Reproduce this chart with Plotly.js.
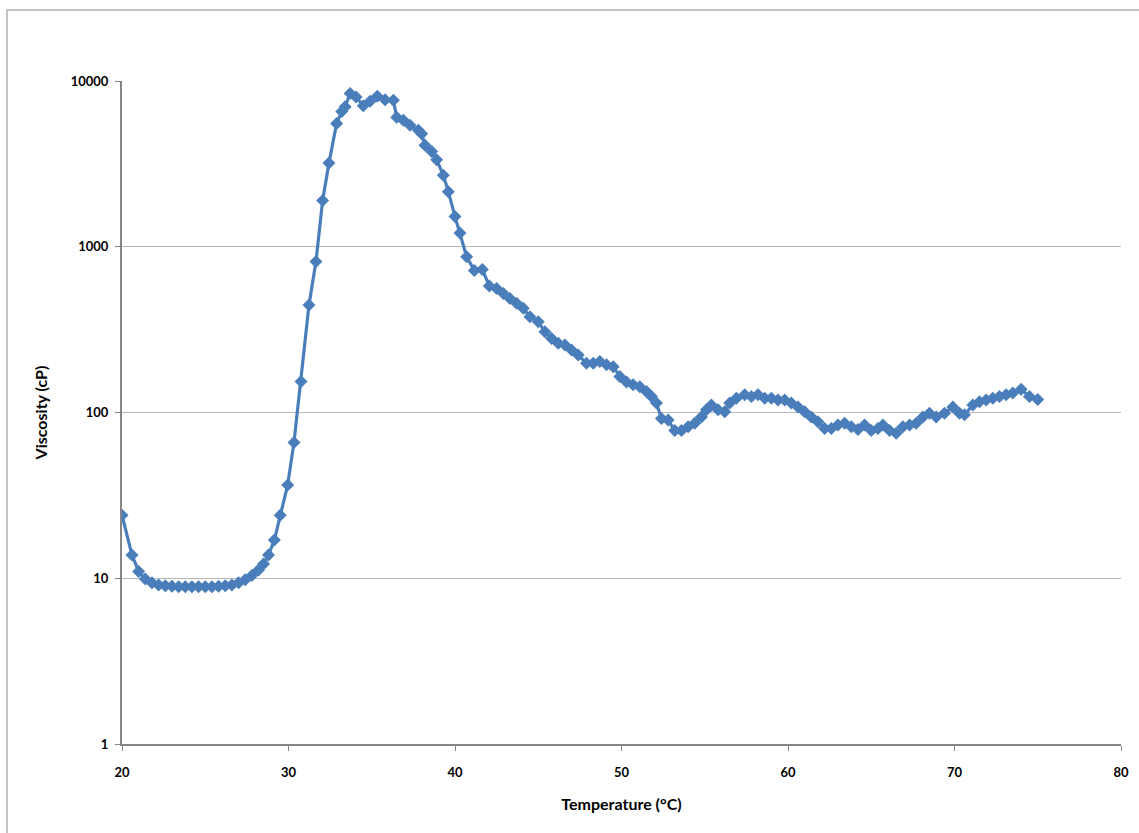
<!DOCTYPE html>
<html>
<head>
<meta charset="utf-8">
<script src="https://cdn.plot.ly/plotly-3.0.1.min.js"></script>
<style>
  html, body { margin: 0; padding: 0; width: 1139px; height: 833px; overflow: hidden; background: #ffffff; }
  #frame { position: absolute; left: 6px; top: 9px; width: 2000px; height: 2000px; border: 2px solid #c4c4c4; box-sizing: border-box; }
  #chart { position: absolute; left: 0; top: 0; width: 1139px; height: 833px; }
</style>
</head>
<body>
<div id="frame"></div>
<div id="chart"></div>
<script>
const temperature = [
  20.0, 20.6, 21.0, 21.4, 21.8, 22.2, 22.6, 23.0, 23.4, 23.8,
  24.2, 24.6, 25.0, 25.4, 25.8, 26.2, 26.6, 27.0, 27.4, 27.8,
  28.2, 28.5, 28.8, 29.15, 29.5, 29.95, 30.33, 30.75, 31.23, 31.65,
  32.05, 32.43, 32.89, 33.2, 33.4, 33.7, 34.06, 34.49, 34.9, 35.33,
  35.8, 36.3, 36.5, 36.9, 37.3, 37.8, 38.0, 38.2, 38.6, 38.9,
  39.3, 39.6, 40.0, 40.3, 40.7, 41.16, 41.64, 42.06, 42.5, 42.9,
  43.3, 43.7, 44.1, 44.5, 45.0, 45.4, 45.8, 46.2, 46.6, 47.0,
  47.4, 47.9, 48.3, 48.7, 49.1, 49.5, 49.9, 50.3, 50.7, 51.1,
  51.5, 51.8, 52.1, 52.4, 52.8, 53.2, 53.6, 54.0, 54.4, 54.8,
  55.1, 55.4, 55.8, 56.2, 56.5, 56.9, 57.4, 57.8, 58.2, 58.6,
  59.0, 59.4, 59.8, 60.2, 60.6, 61.0, 61.4, 61.8, 62.2, 62.6,
  63.0, 63.4, 63.8, 64.2, 64.6, 65.0, 65.4, 65.7, 66.1, 66.5,
  66.9, 67.3, 67.7, 68.1, 68.5, 68.9, 69.4, 69.9, 70.3, 70.6,
  71.1, 71.5, 71.9, 72.3, 72.7, 73.1, 73.5, 74.0, 74.5, 75.0
];
const viscosity = [
  24, 13.8, 11.0, 9.9, 9.4, 9.1, 9.0, 8.95, 8.9, 8.9,
  8.9, 8.9, 8.9, 8.9, 8.95, 9.0, 9.1, 9.4, 9.8, 10.4,
  11.2, 12.2, 13.8, 17, 24, 36.5, 66, 154, 445, 815,
  1900, 3200, 5550, 6550, 7000, 8400, 8000, 7100, 7550, 8100,
  7700, 7650, 6050, 5800, 5400, 5050, 4800, 4100, 3750, 3350,
  2700, 2150, 1520, 1210, 870, 720, 730, 580, 560, 523,
  488, 456, 425, 378, 353, 307, 280, 262, 255, 238,
  222, 198, 198, 203, 194, 189, 165, 153, 147, 143,
  134, 125, 114, 92, 90, 78, 78, 82, 86, 94,
  104, 111, 104, 101, 114, 122, 128, 125, 128, 122,
  122, 119, 119, 114, 108, 101, 94, 88, 80, 80,
  84, 86, 82, 79, 84, 78, 80, 84, 78, 75,
  82, 84, 86, 94, 99, 94, 99, 108, 99, 97,
  111, 116, 119, 122, 125, 128, 131, 138, 125, 120
];
const yTickVals = [1, 10, 100, 1000, 10000];
const yTickText = ["1", "10", "100", "1000", "10000"];
const xTickVals = [20, 30, 40, 50, 60, 70, 80];

const fontFam = "Lato, 'Open Sans', sans-serif";

const trace = {
  x: temperature,
  y: viscosity,
  type: 'scatter',
  mode: 'lines+markers',
  line: { color: '#4a7ebb', width: 3.2 },
  marker: { symbol: 'diamond', size: 10, color: '#4a7ebb', line: { width: 0 } },
  hoverinfo: 'x+y'
};

const layout = {
  width: 1139,
  height: 833,
  paper_bgcolor: 'rgba(0,0,0,0)',
  plot_bgcolor: 'rgba(0,0,0,0)',
  margin: { l: 122, r: 18, t: 81, b: 89 },
  showlegend: false,
  font: { family: fontFam, color: '#000000' },
  xaxis: {
    range: [20, 80],
    tickvals: xTickVals,
    ticktext: xTickVals.map(String),
    showgrid: false,
    zeroline: false,
    showline: true,
    linecolor: '#868686',
    linewidth: 2,
    ticks: 'outside',
    ticklen: 5,
    tickcolor: '#868686',
    ticklabelstandoff: 10,
    tickfont: { family: fontFam, size: 13, weight: 'bold', color: '#000000' },
    title: { text: '<b>Temperature (°C)</b>', font: { family: fontFam, size: 16, color: '#000000' }, standoff: 20 }
  },
  yaxis: {
    type: 'log',
    range: [0, 4],
    tickvals: yTickVals,
    ticktext: yTickText,
    showgrid: true,
    gridcolor: '#b8b8b8',
    gridwidth: 1,
    zeroline: false,
    showline: true,
    linecolor: '#868686',
    linewidth: 2,
    ticks: 'outside',
    ticklen: 5,
    tickcolor: '#868686',
    ticklabelstandoff: 4,
    tickfont: { family: fontFam, size: 13, weight: 'bold', color: '#000000' },
    title: { text: '<b>Viscosity (cP)</b>', font: { family: fontFam, size: 16, color: '#000000' }, standoff: 19 }
  }
};

Plotly.newPlot('chart', [trace], layout, { displayModeBar: false, staticPlot: true });
</script>
</body>
</html>
